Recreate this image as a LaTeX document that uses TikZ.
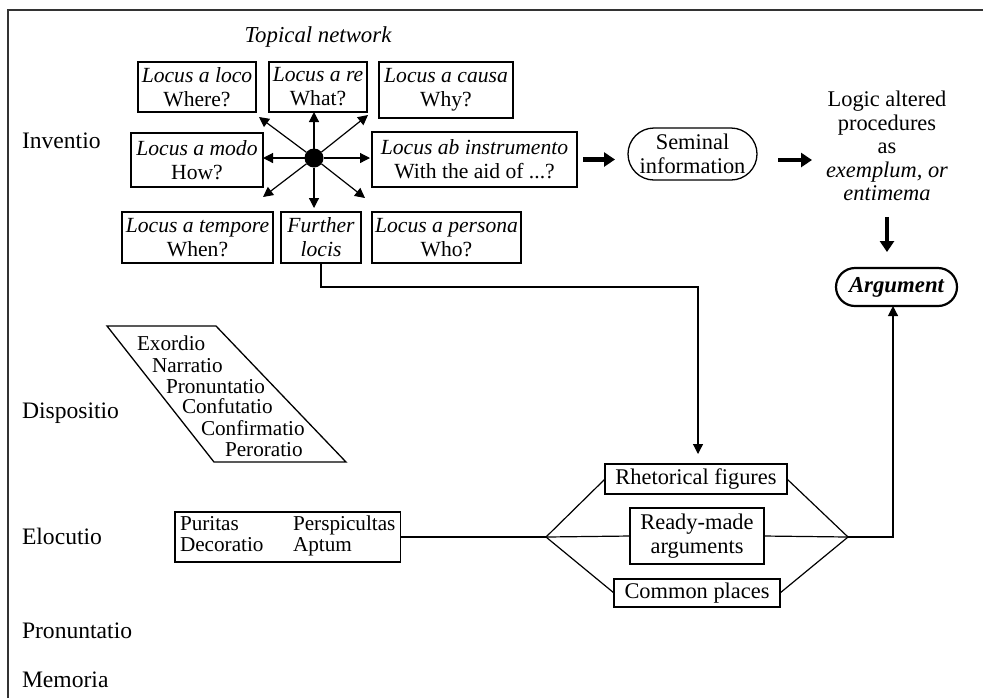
\documentclass[tikz,border=0pt]{standalone}
\usepackage{fontspec}
\setmainfont{Liberation Serif}
\usetikzlibrary{arrows.meta,calc}

\begin{document}
\begin{tikzpicture}[x=0.5pt,y=-0.5pt,
  every node/.style={inner sep=0pt, outer sep=0pt},
  base/.style={font=\fontsize{11.2}{12}\selectfont},
  rowlabel/.style={font=\fontsize{11.8}{12}\selectfont, anchor=base west},
  small/.style={font=\fontsize{10.6}{10.5}\selectfont, anchor=base west},
  locbox/.style={draw, line width=0.65pt, align=center, font=\fontsize{10.8}{12}\selectfont, minimum height=25pt},
  plainbox/.style={draw, line width=0.65pt, align=center, base},
  thinarr/.style={line width=0.6pt, -{Triangle[length=5pt,width=5pt]}},
  thickarr/.style={line width=2.3pt, -{Triangle[length=5.5pt,width=7pt]}},
  link/.style={line width=0.6pt}
]
\useasboundingbox (0,0) rectangle (983,698);

% frame
\draw[line width=0.7pt, black!80] (8,698) -- (8,10) -- (983,10);

% row labels
\node[rowlabel] (inv)  at (22,148) {Inventio};
\node[rowlabel] (disp) at (22,418) {Dispositio};
\node[rowlabel] (eloc) at (22,544) {Elocutio};
\node[rowlabel] (pron) at (22,638) {Pronuntatio};
\node[rowlabel] (mem)  at (22,687) {Memoria};

% topical network
\node[font=\fontsize{11.4}{12}\selectfont\itshape] (topnet) at (318,37) {Topical network};

\node[locbox, minimum width=59pt] (loco) at (197,87) {\textit{Locus a loco}\\Where?};
\node[locbox, minimum width=49pt] (re) at (318,87) {\textit{Locus a re}\\What?};
\node[locbox, minimum width=67pt, minimum height=28pt] (causa) at (446,90) {\textit{Locus a causa}\\Why?};
\node[locbox, minimum width=66pt, minimum height=27pt] (modo) at (197,160) {\textit{Locus a modo}\\How?};
\node[locbox, minimum width=102.5pt, minimum height=27.5pt] (instr) at (474.5,159.5) {\textit{Locus ab instrumento}\\With the aid of ...?};
\node[locbox, minimum width=75.5pt, minimum height=25.5pt] (tempore) at (197.5,237.5) {\textit{Locus a tempore}\\When?};
\node[locbox, minimum width=40pt, minimum height=25.5pt] (further) at (321,237.5) {\textit{Further}\\\textit{locis}};
\node[locbox, minimum width=74.5pt, minimum height=25.5pt] (persona) at (446.5,237.5) {\textit{Locus a persona}\\Who?};

% hub with its eight arrows
\node[circle, fill, minimum size=9.5pt] (hub) at (314,158) {};
\coordinate (ul) at (259,117);
\coordinate (ur) at (368,115);
\coordinate (dl) at (263,197);
\coordinate (dr) at (365,198);
\draw[thinarr] (hub) -- (hub |- re.south);
\draw[thinarr, shorten >=2pt] (hub) -- (hub |- further.north);
\draw[thinarr] (hub) -- (hub -| modo.east);
\draw[thinarr, shorten >=1pt] (hub) -- (hub -| instr.west);
\draw[thinarr] (hub) -- (ul);
\draw[thinarr] (hub) -- (ur);
\draw[thinarr] (hub) -- (dl);
\draw[thinarr] (hub) -- (dr);

% seminal information and logic
\node[draw, line width=0.65pt, rounded corners=13pt, minimum width=64.5pt, minimum height=26pt, align=center, base] (sem) at (692.5,154) {Seminal\\information};
\node[align=center, font=\fontsize{11.2}{11.75}\selectfont] (logic) at (887,146) {Logic altered\\procedures\\as\\\textit{exemplum, or}\\\textit{entimema}};
\node[draw, line width=1.1pt, rounded corners=9.5pt, minimum width=60.5pt, minimum height=19pt, font=\fontsize{11.4}{12}\selectfont\bfseries\itshape] (arg) at (896.5,287) {Argument};

\draw[thickarr, shorten <=3pt, shorten >=6.5pt] (instr.east) -- (instr.east -| sem.west);
\draw[thickarr, shorten <=10.5pt, shorten >=7pt] ([yshift=-3pt]sem.east) -- ([yshift=-3pt]sem.east -| logic.west);
\draw[thickarr, shorten <=8pt, shorten >=8pt] (logic.south) -- (logic.south |- arg.north);

% dispositio parallelogram
\draw[line width=0.65pt] (107,326) -- (216,326) -- (346,462) -- (214,462) -- cycle;
\node[small] (d1) at (137,350) {Exordio};
\node[small] (d2) at (152,372) {Narratio};
\node[small] (d3) at (166,393) {Pronuntatio};
\node[small] (d4) at (182,413) {Confutatio};
\node[small] (d5) at (201,435) {Confirmatio};
\node[small] (d6) at (225,456) {Peroratio};

% elocutio virtues
\node[draw, line width=0.65pt, anchor=west, inner xsep=2.5pt, minimum height=25pt, font=\fontsize{10.6}{10.5}\selectfont] (virt) at (175,537)
  {\begin{tabular}{@{}p{56.5pt}@{}l@{}}Puritas & Perspicultas\\ Decoratio & Aptum\end{tabular}};

% figures, arguments, places
\node[plainbox, minimum width=91pt, minimum height=15pt] (rf) at (696,479) {Rhetorical figures};
\node[plainbox, minimum width=67pt, minimum height=28pt] (rm) at (697,536) {Ready-made\\arguments};
\node[plainbox, minimum width=83pt, minimum height=14pt] (cp) at (697,593) {Common places};

\coordinate (L) at (546,537);
\coordinate (R) at (848,537);
\coordinate (Rturn) at (893,537);
\coordinate (fturn) at (698,287);

\draw[link] (virt.east) -- (L);
\draw[link] (L) -- (rf.west);
\draw[link] (L) -- (rm.west);
\draw[link] (L) -- (cp.west);
\draw[link] (rf.east) -- (R);
\draw[link] (rm.east) -- (R);
\draw[link] (cp.east) -- (R);
\draw[thinarr] (R) -- (Rturn) -- (Rturn |- arg.south);
\draw[thinarr, shorten >=5pt] (further.south) |- (fturn) -- (fturn |- rf.north);
\end{tikzpicture}
\end{document}
